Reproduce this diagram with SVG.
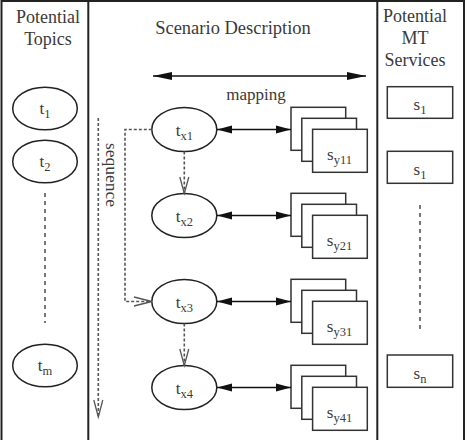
<svg xmlns="http://www.w3.org/2000/svg" width="467" height="440" viewBox="0 0 467 440">
<style>
text{font-family:"Liberation Serif","Times New Roman",serif;fill:#3a3a3a}
.h{font-size:18px}
.lab{font-size:17px}
.sub{font-size:12.5px}
.frame{stroke:#222;stroke-width:2;fill:none}
.node{fill:#fff;stroke:#222;stroke-width:1.5}
.box{fill:#fff;stroke:#333;stroke-width:1.5}
.map{stroke:#111;stroke-width:1.4;fill:none}
.seq{stroke:#555;stroke-width:1.6;stroke-dasharray:3 2;fill:none}
.vee{stroke:#555;stroke-width:1.3;fill:none}
.dots{stroke:#555;stroke-width:1.6;stroke-dasharray:4 4;fill:none}
</style>
<defs>
<marker id="ah" markerUnits="userSpaceOnUse" markerWidth="16" markerHeight="10" refX="15" refY="4" orient="auto-start-reverse" viewBox="0 0 16 8"><path d="M0,0 L15,4 L0,8 Z" fill="#111"/></marker>
<marker id="ahL" markerUnits="userSpaceOnUse" markerWidth="20" markerHeight="10" refX="19" refY="4" orient="auto-start-reverse" viewBox="0 0 20 8"><path d="M0,0 L19,4 L0,8 Z" fill="#111"/></marker>
</defs>
<g id="frame">
<path class="frame" d="M1.5,440 V1 H464 V440"/>
<line class="frame" x1="88.3" y1="1" x2="88.3" y2="440"/>
<line class="frame" x1="377.3" y1="1" x2="377.3" y2="440"/>
</g>
<g id="headers">
<text class="h" x="48" y="23" text-anchor="middle">Potential</text>
<text class="h" x="48" y="45" text-anchor="middle">Topics</text>
<text class="h" x="233" y="34" text-anchor="middle" style="font-size:18.5px">Scenario Description</text>
<text class="h" x="415" y="22" text-anchor="middle">Potential</text>
<text class="h" x="415" y="44" text-anchor="middle">MT</text>
<text class="h" x="415" y="66" text-anchor="middle">Services</text>
<text class="lab" x="256" y="100" text-anchor="middle">mapping</text>
</g>
<g id="t1"><ellipse class="node" cx="45" cy="108.5" rx="32.3" ry="21.3"/><text class="lab" x="45" y="114" text-anchor="middle">t<tspan class="sub" dy="4">1</tspan></text></g>
<g id="t2"><ellipse class="node" cx="45" cy="161.5" rx="32.3" ry="21.3"/><text class="lab" x="45" y="167" text-anchor="middle">t<tspan class="sub" dy="4">2</tspan></text></g>
<g id="tm"><ellipse class="node" cx="45" cy="365.5" rx="32.3" ry="21.3"/><text class="lab" x="45" y="371" text-anchor="middle">t<tspan class="sub" dy="4">m</tspan></text></g>
<line class="dots" x1="45" y1="193" x2="45" y2="323"/>
<g id="s1a"><rect class="box" x="387.3" y="86.7" width="65.4" height="31.6"/><text class="lab" x="420" y="110" text-anchor="middle">s<tspan class="sub" dy="4">1</tspan></text></g>
<g id="s1b"><rect class="box" x="387.3" y="151.3" width="65.4" height="32"/><text class="lab" x="420" y="174.5" text-anchor="middle">s<tspan class="sub" dy="4">1</tspan></text></g>
<g id="sn"><rect class="box" x="387.3" y="355" width="65.4" height="32.3"/><text class="lab" x="420" y="378.5" text-anchor="middle">s<tspan class="sub" dy="4">n</tspan></text></g>
<line class="dots" x1="420" y1="205" x2="420" y2="333"/>
<g id="tx1"><ellipse class="node" cx="184.3" cy="129.5" rx="32.5" ry="22"/><text class="lab" x="184.3" y="136" text-anchor="middle">t<tspan class="sub" dy="4">x1</tspan></text></g>
<g id="tx2"><ellipse class="node" cx="184.3" cy="215.5" rx="32.5" ry="22"/><text class="lab" x="184.3" y="222" text-anchor="middle">t<tspan class="sub" dy="4">x2</tspan></text></g>
<g id="tx3"><ellipse class="node" cx="184.3" cy="301.5" rx="32.5" ry="22"/><text class="lab" x="184.3" y="308" text-anchor="middle">t<tspan class="sub" dy="4">x3</tspan></text></g>
<g id="tx4"><ellipse class="node" cx="184.3" cy="387.5" rx="32.5" ry="22"/><text class="lab" x="184.3" y="394" text-anchor="middle">t<tspan class="sub" dy="4">x4</tspan></text></g>
<g id="sy11"><rect class="box" x="291" y="107.3" width="54.7" height="43"/><rect class="box" x="301.8" y="118.3" width="54.7" height="43"/><rect class="box" x="312.6" y="129.3" width="54.7" height="43"/><text class="lab" x="339.5" y="160" text-anchor="middle">s<tspan class="sub" dy="4">y11</tspan></text></g>
<g id="sy21"><rect class="box" x="291" y="193.3" width="54.7" height="43"/><rect class="box" x="301.8" y="204.3" width="54.7" height="43"/><rect class="box" x="312.6" y="215.3" width="54.7" height="43"/><text class="lab" x="339.5" y="246" text-anchor="middle">s<tspan class="sub" dy="4">y21</tspan></text></g>
<g id="sy31"><rect class="box" x="291" y="279.3" width="54.7" height="43"/><rect class="box" x="301.8" y="290.3" width="54.7" height="43"/><rect class="box" x="312.6" y="301.3" width="54.7" height="43"/><text class="lab" x="339.5" y="332" text-anchor="middle">s<tspan class="sub" dy="4">y31</tspan></text></g>
<g id="sy41"><rect class="box" x="291" y="365.3" width="54.7" height="43"/><rect class="box" x="301.8" y="376.3" width="54.7" height="43"/><rect class="box" x="312.6" y="387.3" width="54.7" height="43"/><text class="lab" x="339.5" y="418" text-anchor="middle">s<tspan class="sub" dy="4">y41</tspan></text></g>
<g id="connectors">
<line class="map" x1="153" y1="76" x2="366" y2="76" marker-start="url(#ahL)" marker-end="url(#ahL)"/>
<line class="map" x1="217" y1="129.5" x2="291" y2="129.5" marker-start="url(#ah)" marker-end="url(#ah)"/>
<line class="map" x1="217" y1="215.5" x2="291" y2="215.5" marker-start="url(#ah)" marker-end="url(#ah)"/>
<line class="map" x1="217" y1="301.5" x2="291" y2="301.5" marker-start="url(#ah)" marker-end="url(#ah)"/>
<line class="map" x1="217" y1="387.5" x2="291" y2="387.5" marker-start="url(#ah)" marker-end="url(#ah)"/>
<path class="seq" d="M184.3,151.5 V193.5"/>
<path class="vee" d="M179.8,177 L184.3,193.5 L188.8,177"/>
<path class="seq" d="M184.3,323.5 V365.5"/>
<path class="vee" d="M179.8,349 L184.3,365.5 L188.8,349"/>
<path class="seq" d="M151.8,129.5 H125 V301.5 H151.8"/>
<path class="vee" d="M134,297 L151.8,301.5 L134,306"/>
<path class="seq" d="M98.3,118 V417"/>
<path class="vee" d="M93.8,400 L98.3,417 L102.8,400"/>
</g>
<text class="lab" transform="translate(106,175) rotate(90)" text-anchor="middle" style="font-size:17.5px">sequence</text>
</svg>
